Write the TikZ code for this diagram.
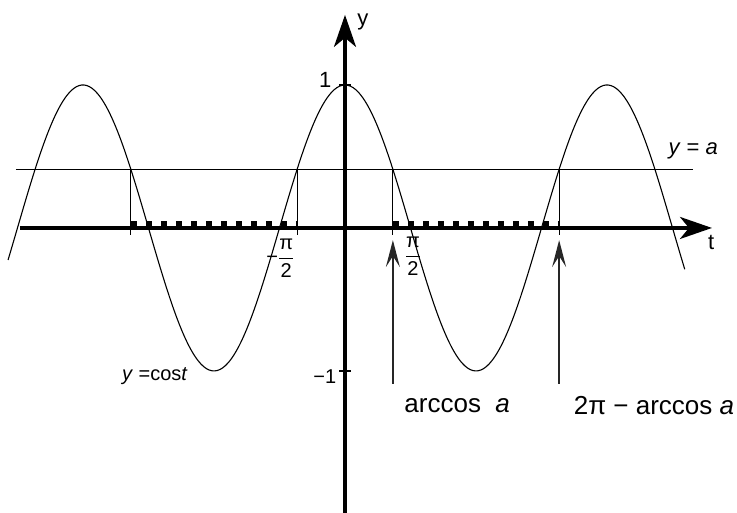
\documentclass[tikz,border=0pt]{standalone}
\usepackage{fontspec}
\setmainfont{Liberation Sans}
\usetikzlibrary{arrows.meta}

\tikzset{
  axis/.style={line width=3.4pt, -{Stealth[length=32pt,width=22pt,inset=9pt]}},
  thinline/.style={line width=1.2pt},
  pointer/.style={line width=1.5pt, black!85, -{Stealth[length=27pt,width=14pt,inset=11pt]}},
  dotseg/.style={line width=6pt, dash pattern=on 6pt off 9pt, yshift=3.5pt},
  biglbl/.style={font=\fontsize{26}{30}\selectfont},
  smalllbl/.style={font=\fontsize{20}{24}\selectfont}
}

\begin{document}
\begin{tikzpicture}[x=41.7pt, y=143pt, every node/.style={font=\fontsize{22}{26}\selectfont, inner sep=1pt}]
\pgfmathsetmacro{\av}{0.41}
\pgfmathsetmacro{\ac}{acos(\av)*pi/180}
\useasboundingbox (-8.273,-1.993) rectangle (9.400,1.594);
% cosine curve and the line y = a
\draw[line width=1.1pt, domain=-8.08:8.15, samples=250, smooth] plot (\x,{cos(\x r)});
\draw[thinline] (-7.89,\av) -- (8.35,\av);
% drops from the crossings to the t axis
\foreach \t in {-2*pi+\ac, -\ac, \ac, 2*pi-\ac} {
  \draw[thinline] ({\t},\av) -- ({\t},-0.05);
}
% intervals where cos t <= a
\draw[dotseg] ({-2*pi+\ac},0) -- ({-\ac},0);
\draw[dotseg] ({\ac},0) -- ({2*pi-\ac},0);
% axes
\coordinate (xs) at (-7.79,0);
\coordinate (xe) at (8.80,0);
\coordinate (ys) at (0,-1.993);
\coordinate (ye) at (0,1.49);
\draw[axis] (xs) -- (xe);
\draw[axis] (ys) -- (ye);
\draw[thinline] (-0.14,1) -- (0.14,1);
\draw[thinline] (-0.14,-1) -- (0.14,-1);
% axis labels
\node (ylab) at (0.43,1.44) {y};
\node (tlab) at (8.78,-0.105) {t};
\node[anchor=east] (one) at (-0.30,1.035) {1};
\node[anchor=east, smalllbl] (mone) at (-0.18,-1.042) {−1};
\node[smalllbl] (mhalfpi) at (-1.55,-0.21) {−$\displaystyle\frac{\mbox{π}}{\mbox{2}}$};
\node[smalllbl] (halfpi) at (1.63,-0.20) {$\displaystyle\frac{\mbox{π}}{\mbox{2}}$};
% curve labels
\node (ya) at (8.35,0.54) {\textit{y} = \textit{a}};
\node[font=\fontsize{20}{24}\selectfont] (ycos) at (-4.56,-1.035) {\textit{y} =cos\textit{t}};
% pointers to the two roots
\coordinate (r1) at ({\ac},-0.085);
\coordinate (r1s) at ({\ac},-1.09);
\coordinate (r2) at ({2*pi-\ac},-0.085);
\coordinate (r2s) at ({2*pi-\ac},-1.09);
\draw[pointer] (r1s) -- (r1);
\draw[pointer] (r2s) -- (r2);
\node[biglbl] (acos) at (2.69,-1.24) {arccos\ \ \textit{a}};
\node[biglbl] (tpacos) at (7.41,-1.24) {2π − arccos \textit{a}};
\end{tikzpicture}
\end{document}
